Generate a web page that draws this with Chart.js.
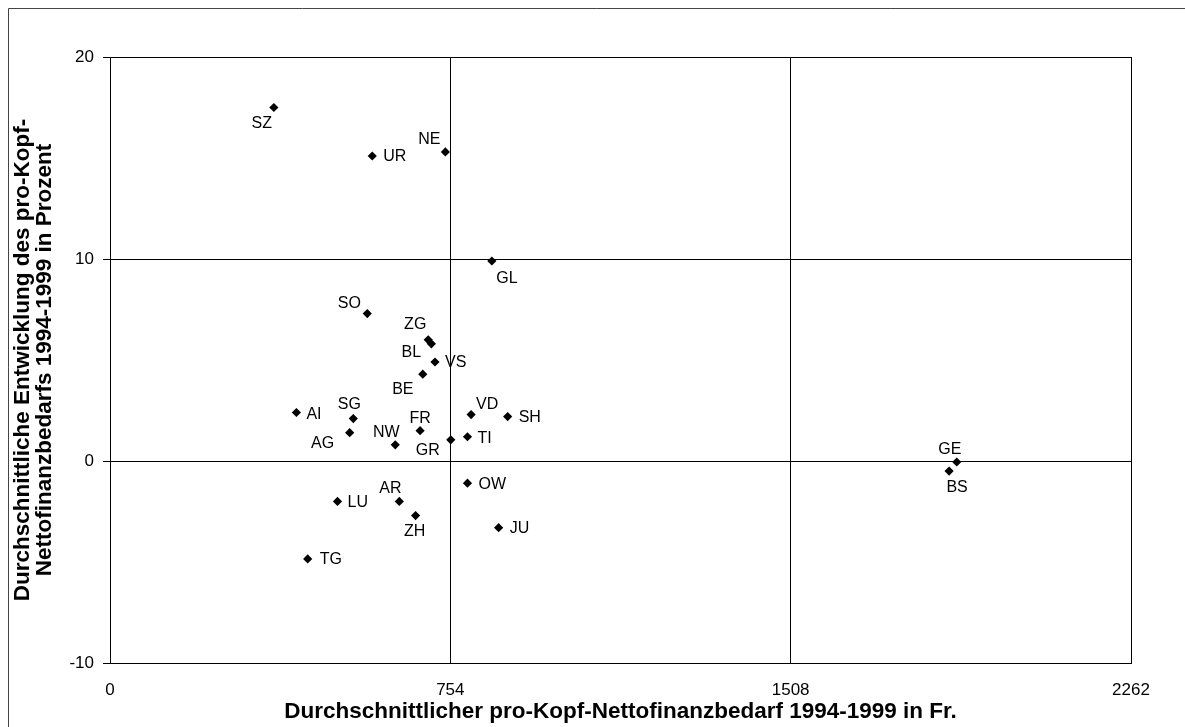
<!DOCTYPE html>
<html>
<head>
<meta charset="utf-8">
<script src="https://cdn.jsdelivr.net/npm/chart.js@4"></script>
<style>
html,body{margin:0;padding:0;background:#fff;}
#wrap{width:1185px;height:727px;position:relative;}
</style>
</head>
<body>
<div id="wrap"><canvas id="c" width="1185" height="727"></canvas></div>
<script>
// Data
const cantons = ["SZ","UR","NE","GL","SO","ZG","BL","VS","BE","AI","SG","AG","FR","NW","GR","TI","VD","SH","OW","LU","AR","ZH","TG","JU","GE","BS"];
const nettofinanzbedarf = [363,581,743,846,570,705,712,720,693,413,539,531,687,632,755,792,800,881,792,504,641,677,438,861,1876,1859];
const entwicklung = [17.5,15.1,15.3,9.9,7.3,6.0,5.8,4.9,4.3,2.4,2.1,1.4,1.5,0.8,1.05,1.2,2.3,2.2,-1.1,-2.0,-2.0,-2.7,-4.85,-3.3,-0.05,-0.5];
const xTicks = [0,754,1508,2262];
const yTicks = [-10,0,10,20];
const xTitle = "Durchschnittlicher pro-Kopf-Nettofinanzbedarf 1994-1999 in Fr.";
const yTitle = ["Durchschnittliche Entwicklung des pro-Kopf-","Nettofinanzbedarfs 1994-1999 in Prozent"];

// Label placement (style, kept separate from data): [dx, dy, align]
const labelPlacement = {
  SZ:[-12,16,'center'], UR:[11,1,'left'], NE:[-16,-12,'center'], GL:[15,18,'center'],
  SO:[-18,-10,'center'], ZG:[-13,-15,'center'], BL:[-20,9,'center'], VS:[10,1,'left'],
  BE:[-20,15,'center'], AI:[10,2,'left'], SG:[-4,-14,'center'], AG:[-27,11,'center'],
  FR:[0,-12,'center'], NW:[-9,-12,'center'], GR:[-23,11,'center'], TI:[10,2,'left'],
  VD:[16,-10,'center'], SH:[11,1,'left'], OW:[11,1,'left'], LU:[10,1,'left'],
  AR:[-9,-13,'center'], ZH:[-1,16,'center'], TG:[12,1,'left'], JU:[11,1,'left'],
  GE:[-7,-12,'center'], BS:[8,16,'center']
};

const FONT = "'Liberation Sans', Arial, Helvetica, sans-serif";
Chart.defaults.font.family = FONT;
Chart.defaults.color = '#000';

const points = cantons.map((n,i)=>({x:nettofinanzbedarf[i], y:entwicklung[i]}));

const pointLabels = {
  id:'pointLabels',
  afterDatasetsDraw(chart){
    const ctx = chart.ctx;
    const meta = chart.getDatasetMeta(0);
    ctx.save();
    ctx.font = "16px " + FONT;
    ctx.fillStyle = '#000';
    ctx.textBaseline = 'middle';
    meta.data.forEach((el,i)=>{
      const name = cantons[i];
      const p = labelPlacement[name] || [10,0,'left'];
      ctx.textAlign = p[2];
      ctx.fillText(name, el.x + p[0], el.y + p[1]);
    });
    ctx.restore();
  }
};

const frame = {
  id:'frame',
  beforeDraw(chart){
    const ctx = chart.ctx;
    ctx.save();
    ctx.fillStyle = '#fff';
    ctx.fillRect(0,0,chart.width,chart.height);
    ctx.strokeStyle = '#444';
    ctx.lineWidth = 1;
    ctx.beginPath();
    ctx.moveTo(8.5, chart.height);
    ctx.lineTo(8.5, 8.5);
    ctx.lineTo(chart.width, 8.5);
    ctx.stroke();
    ctx.restore();
  }
};

new Chart(document.getElementById('c'), {
  type:'scatter',
  data:{
    datasets:[{
      data: points,
      backgroundColor:'#000',
      borderColor:'#000',
      pointStyle:'rectRot',
      pointRadius:4.6,
      pointHoverRadius:4.6,
      borderWidth:0
    }]
  },
  options:{
    responsive:false,
    animation:false,
    devicePixelRatio:1,
    layout:{padding:{top:57,right:54,left:0,bottom:0}},
    plugins:{legend:{display:false},tooltip:{enabled:false}},
    scales:{
      x:{
        type:'linear', min:0, max:2262,
        afterBuildTicks(scale){ scale.ticks = xTicks.map(v=>({value:v})); },
        afterFit(scale){ scale.height = 64; },
        grid:{color:'#000', lineWidth:1, drawTicks:false},
        border:{color:'#000', width:1},
        ticks:{padding:17, font:{size:17}, color:'#000', maxRotation:0, callback:v=>String(v)},
        title:{display:true, text:xTitle, font:{size:22.5, weight:'bold', lineHeight:'22px'}, color:'#000', padding:{top:0,bottom:4}}
      },
      y:{
        type:'linear', min:-10, max:20,
        afterBuildTicks(scale){ scale.ticks = yTicks.map(v=>({value:v})); },
        afterFit(scale){ scale.width = 110; },
        grid:{color:'#000', lineWidth:1, drawTicks:true, tickLength:7},
        border:{color:'#000', width:1},
        ticks:{padding:9, font:{size:17}, color:'#000', callback:v=>String(v)},
        title:{display:true, text:yTitle, font:{size:22.5, weight:'bold', lineHeight:'22px'}, color:'#000', padding:{top:12,bottom:0}}
      }
    }
  },
  plugins:[frame, pointLabels]
});
</script>
</body>
</html>
